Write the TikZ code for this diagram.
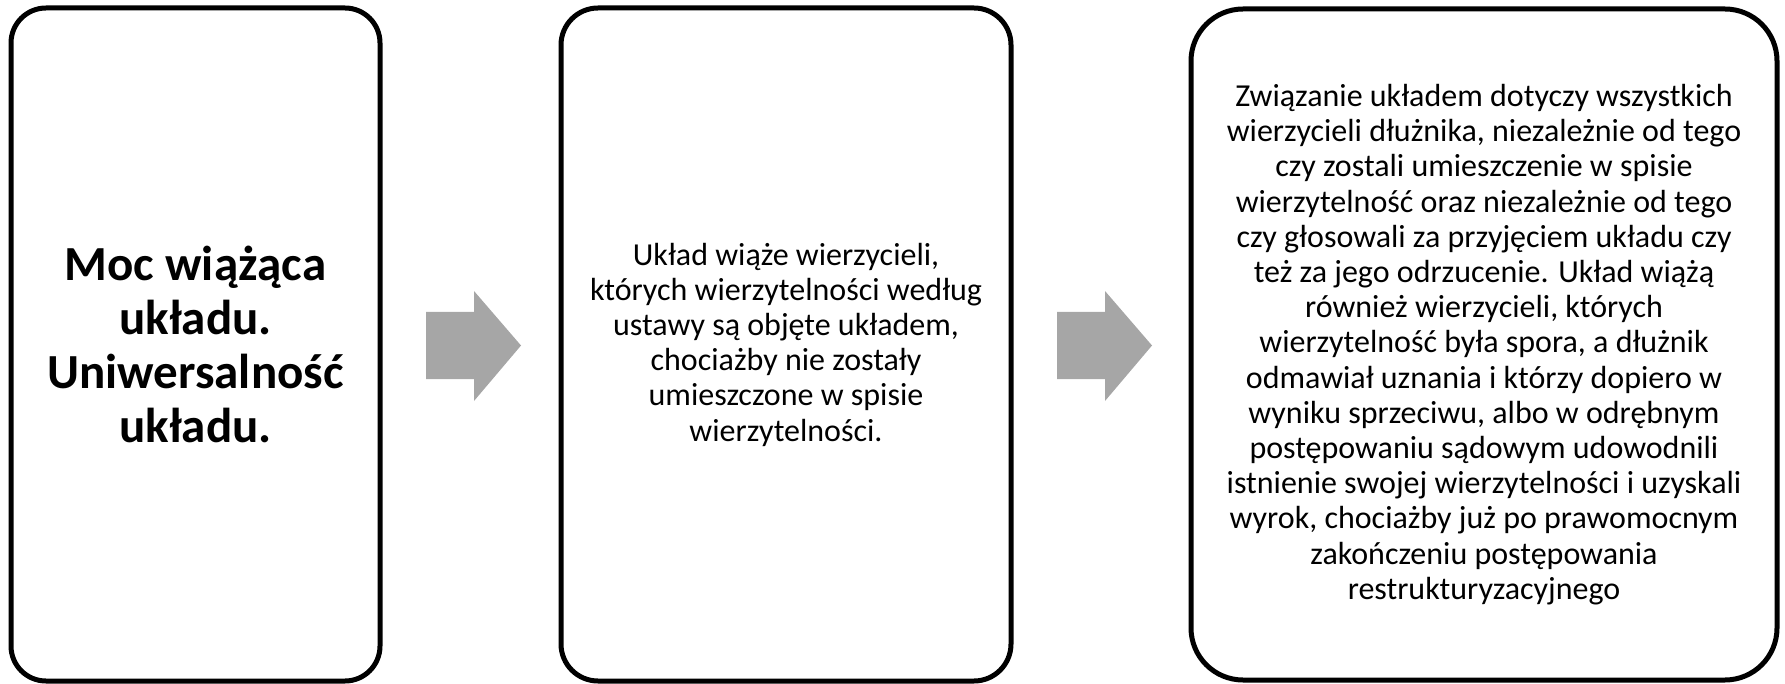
\documentclass[tikz,border=0pt]{standalone}
\usepackage{fontspec}
\setmainfont{Carlito}
\definecolor{arrowgray}{HTML}{A6A6A6}
\tikzstyle{box} = [draw, rectangle, line width=5pt, align=center, inner sep=0pt]
\tikzstyle{txt} = [font=\fontsize{32}{35.2}\selectfont]

\begin{document}
\begin{tikzpicture}[x=1pt,y=-1pt]
  \useasboundingbox (0,0) rectangle (1785,684);
  \node[box, rounded corners=35pt, minimum width=369pt, minimum height=673pt,
        font=\fontsize{49}{54}\selectfont\bfseries] at (195.5,344.5) (moc)
        {Moc wiążąca\\układu.\\Uniwersalność\\układu.};
  \node[box, txt, rounded corners=37pt, minimum width=450pt, minimum height=673pt] at (786,344.5) (wiaze)
        {Układ wiąże wierzycieli,\\których wierzytelności według\\ustawy są objęte układem,\\chociażby nie zostały\\umieszczone w spisie\\wierzytelności.};
  \node[box, txt, rounded corners=52pt, minimum width=586pt, minimum height=671pt] at (1484,344.5) (zwiazanie)
        {Związanie układem dotyczy wszystkich\\wierzycieli dłużnika, niezależnie od tego\\czy zostali umieszczenie w spisie\\wierzytelność oraz niezależnie od tego\\czy głosowali za przyjęciem układu czy\\też za jego odrzucenie. Układ wiążą\\również wierzycieli, których\\wierzytelność była spora, a dłużnik\\odmawiał uznania i którzy dopiero w\\wyniku sprzeciwu, albo w odrębnym\\postępowaniu sądowym udowodnili\\istnienie swojej wierzytelności i uzyskali\\wyrok, chociażby już po prawomocnym\\zakończeniu postępowania\\restrukturyzacyjnego};
  % szare strzalki
  \foreach \x in {426,1057}
    \fill[arrowgray] (\x,312) -- (\x+48,312) -- (\x+48,291) -- (\x+95,345.5)
      -- (\x+48,401) -- (\x+48,379) -- (\x,379) -- cycle;
\end{tikzpicture}
\end{document}
